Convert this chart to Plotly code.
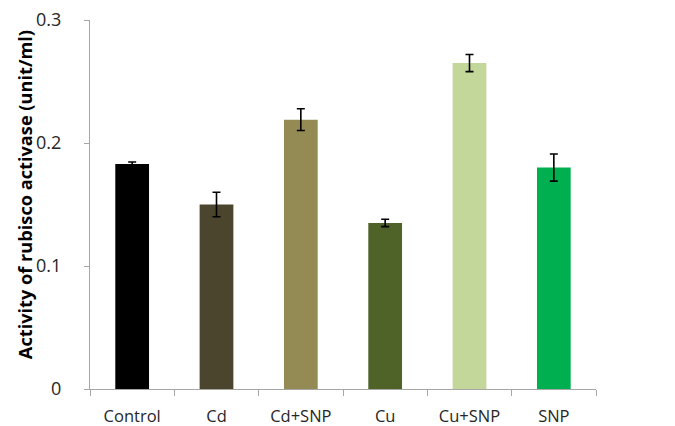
import plotly.graph_objects as go

# Treatment groups and measured rubisco activase activity (unit/ml)
categories = ["Control", "Cd", "Cd+SNP", "Cu", "Cu+SNP", "SNP"]
activity = [0.183, 0.150, 0.219, 0.135, 0.265, 0.180]
errors = [0.0015, 0.010, 0.0088, 0.003, 0.007, 0.011]
bar_colors = ["#000000", "#4a452c", "#948a54", "#4f6228", "#c4d79b", "#00b050"]
y_ticks = [0, 0.1, 0.2, 0.3]
y_tick_text = ["0", "0.1", "0.2", "0.3"]
y_title = "Activity of rubisco activase (unit/ml)"

font_family = "Open Sans, Noto Sans, DejaVu Sans, sans-serif"

fig = go.Figure(
    go.Bar(
        x=categories,
        y=activity,
        marker=dict(color=bar_colors, line=dict(width=0)),
        error_y=dict(type="data", array=errors, visible=True,
                     color="#000000", thickness=1.6, width=4),
    )
)

fig.update_layout(
    width=675,
    height=426,
    margin=dict(l=90, r=79, t=20, b=37),
    paper_bgcolor="white",
    plot_bgcolor="white",
    bargap=0.6,
    showlegend=False,
    font=dict(family=font_family, color="#262626", size=16),
)

fig.update_xaxes(
    showline=True, linecolor="#a6a6a6", linewidth=1,
    ticks="outside", tickcolor="#a6a6a6", ticklen=6,
    tickson="boundaries", showgrid=False,
    tickfont=dict(size=16.5, color="#262626"),
    ticklabelstandoff=12,
    automargin=False,
)

fig.update_yaxes(
    range=[0, 0.3], tickvals=y_ticks, ticktext=y_tick_text,
    showline=True, linecolor="#a6a6a6", linewidth=1,
    ticks="outside", tickcolor="#a6a6a6", ticklen=5,
    showgrid=False, zeroline=False,
    tickfont=dict(size=18, color="#262626"),
    ticklabelstandoff=19,
    automargin=False,
)

# Vertical axis title placed as a rotated annotation left of the tick labels
fig.add_annotation(
    text=f"<b>{y_title}</b>",
    xref="paper", yref="paper",
    x=-0.128, y=0.526,
    xanchor="center", yanchor="middle",
    textangle=-90, showarrow=False,
    font=dict(size=18.2, color="#000000", family=font_family),
)

fig.write_html("out.html")
